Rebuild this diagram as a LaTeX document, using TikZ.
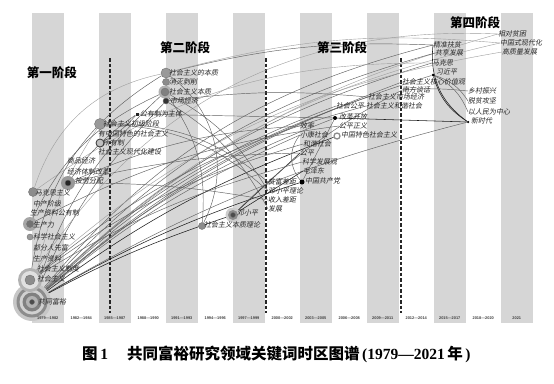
\documentclass[tikz,border=0pt]{standalone}
\usepackage{fontspec}
\newfontfamily\cjk[FakeSlant=0.18]{Noto Sans CJK SC}
\newfontfamily\cjkup{Noto Sans CJK SC}
\newfontfamily\yrfont{Liberation Sans}
\newfontfamily\capnum{Liberation Serif}
\pgfdeclarelayer{bg}
\pgfdeclarelayer{lines}
\pgfsetlayers{bg,lines,main}
\begin{document}
\begin{tikzpicture}[x=1pt,y=-1pt,
 kw/.style={font=\cjk\fontsize{7}{7}\selectfont, anchor=west, inner sep=0pt, text=black!85},
 phase/.style={font=\cjkup\bfseries\fontsize{12.5}{12.5}\selectfont, inner sep=0pt},
 yr/.style={font=\yrfont\bfseries\fontsize{3.9}{4}\selectfont, inner sep=0pt, text=black!75},
 ln/.style={draw=black!62, line width=0.45pt},
 lnl/.style={draw=black!38, line width=0.4pt},
 lnd/.style={draw=black!88, line width=0.55pt},
 hub/.style={circle, inner sep=0pt, draw=black!55, line width=0.4pt},
 stripe/.style={fill=black!16},
 phaseline/.style={draw=black!85, line width=1.1pt, dash pattern=on 3.5pt off 2pt}
]
\begin{pgfonlayer}{bg}
\useasboundingbox (0,0) rectangle (554,383);
\fill[white] (0,0) rectangle (554,383);
\foreach \i in {0,2,...,14}{
  \fill[stripe] ({31.5+33.5*\i},13) rectangle ({31+33.5*(\i+1)-0.5},323);
}
\coordinate (d1a) at (110,58); \coordinate (d1b) at (110,313);
\coordinate (d2a) at (266,58); \coordinate (d2b) at (266,313);
\coordinate (d3a) at (401,58); \coordinate (d3b) at (401,313);
\draw[phaseline] (d1a) -- (d1b);
\draw[phaseline] (d2a) -- (d2b);
\draw[phaseline] (d3a) -- (d3b);
\end{pgfonlayer}
% phase titles
\node[phase] (p1) at (52,73) {第一阶段};
\node[phase] (p2) at (185,48) {第二阶段};
\node[phase] (p3) at (342,48) {第三阶段};
\node[phase] (p4) at (475,23) {第四阶段};

% hub circles
\fill[black!22] (32,302) circle (19pt);
\fill[black!45] (32,302) circle (15.5pt);
\fill[black!18] (32,302) circle (12.5pt);
\fill[black!50] (32,302) circle (9.5pt);
\fill[black!30] (32,302) circle (6pt);
\node[hub, fill=black!70, minimum size=5pt] (cgt) at (32,302) {};
\fill[black!30] (30,280) circle (12pt);
\fill[black!12] (30,280) circle (9pt);
\node[hub, fill=black!45, minimum size=10pt] (cshzy) at (30,280) {};
\fill[black!35] (30,224) circle (7pt);
\node[hub, fill=black!55, minimum size=7pt] (cscl) at (30,224) {};
\node[hub, fill=black!40, minimum size=6pt] (ckxsh) at (30,237) {};
\node[hub, fill=black!45, minimum size=9pt] (cmkszy) at (33,192) {};
\fill[black!40] (68,183) circle (7pt);
\node[hub, fill=black!85, minimum size=6pt] (caldf) at (68,183) {};
\node[hub, fill=black!40, minimum size=11pt] (ccjjd) at (100,124) {};
\node[hub, fill=black!25, draw=black!80, line width=0.8pt, minimum size=8pt] (csyz) at (100,143) {};
\node[fill=black!85, inner sep=0pt, minimum size=3pt] (cgyzt) at (137,114) {};
\node[hub, fill=black!40, minimum size=10pt] (cbz) at (166,73) {};
\node[hub, fill=black!45, minimum size=7pt] (cxmbx) at (166,82) {};
\fill[black!30] (165,92) circle (6.5pt);
\node[hub, fill=black!50, minimum size=8pt] (cshbz) at (165,92) {};
\node[hub, fill=black!80, minimum size=6pt] (cscjj) at (166,101) {};
\fill[black!20] (233,215) circle (7.5pt);
\fill[black!45] (233,215) circle (5pt);
\node[hub, fill=black!70, minimum size=5pt] (cdxp) at (233,215) {};
\node[hub, fill=black!45, minimum size=7pt] (cbzll) at (202,226) {};
\node[circle, fill=black, inner sep=0pt, minimum size=5pt] (czggcd) at (302,182) {};
\node[circle, fill=black, inner sep=0pt, minimum size=4pt] (cggkf) at (335,118) {};
\node[circle, draw=black!45, line width=1.3pt, fill=white, inner sep=0pt, minimum size=6pt] (cts) at (337,136) {};
\node[circle, fill=black, inner sep=0pt, minimum size=3pt] (cxjp) at (433,75) {};
\node[circle, fill=black, inner sep=0pt, minimum size=2.5pt] (cxsd) at (468,122) {};

% year labels
\foreach \t [count=\i from 0] in {1979—1982,1982—1984,1985—1987,1988—1990,1991—1993,1994—1996,1997—1999,2000—2002,2003—2005,2006—2008,2009—2011,2012—2014,2015—2017,2018—2020,2021}{
  \node[yr] (y\i) at ({31+33.5*\i+16.75},318) {\t};
}

% keyword labels
\path
 (38,302) node[kw] (gt) {共同富裕}
 (37,279) node[kw] (shzy) {社会主义}
 (37,269) node[kw] (shzd) {社会主义制度}
 (33,259) node[kw] (sczl) {生产资料}
 (33,248) node[kw] (bfr) {部分人先富}
 (33,237) node[kw] (kxsh) {科学社会主义}
 (33,225) node[kw] (scl) {生产力}
 (30,213) node[kw] (gyz) {生产资料公有制}
 (33,204) node[kw] (zcj) {中产阶级}
 (35,193) node[kw] (mkszy) {马克思主义}
 (75,181) node[kw] (aldf) {按劳分配}
 (67,172) node[kw] (jjtz) {经济体制改革}
 (67,161) node[kw] (spjj) {商品经济}
 (103,124) node[kw] (cjjd) {社会主义初级阶段}
 (98,134) node[kw] (zgts) {有中国特色的社会主义}
 (103,143) node[kw] (syz) {所有制}
 (98,152) node[kw] (xdh) {社会主义现代化建设}
 (140,114) node[kw] (gyzt) {公有制为主体}
 (169,73) node[kw] (bz) {社会主义的本质}
 (169,82) node[kw] (xmbx) {消灭剥削}
 (169,92) node[kw] (shbz) {社会主义本质}
 (170,101) node[kw] (scjj) {市场经济}
 (237,213) node[kw] (dxp) {邓小平}
 (204,225) node[kw] (bzll) {社会主义本质理论}
 (268,182) node[kw] (pfcj) {贫富差距}
 (268,191) node[kw] (dxpll) {邓小平理论}
 (268,200) node[kw] (srcj) {收入差距}
 (268,209) node[kw] (fz) {发展}
 (336,106) node[kw] (shgp) {社会公平}
 (366,106) node[kw] (hxsh2) {社会主义和谐社会}
 (368,97) node[kw] (shsc) {社会主义市场经济}
 (402,90) node[kw] (nfth) {南方谈话}
 (402,82) node[kw] (hxjz) {社会主义核心价值观}
 (339,117) node[kw] (ggkf) {改革开放}
 (339,126) node[kw] (gpzy) {公平正义}
 (341,135) node[kw] (tsshzy) {中国特色社会主义}
 (300,126) node[kw] (xl) {效率}
 (300,135) node[kw] (xksh) {小康社会}
 (303,144) node[kw] (hxsh) {和谐社会}
 (300,153) node[kw] (gp) {公平}
 (302,162) node[kw] (kxfz) {科学发展观}
 (303,171) node[kw] (mzd) {毛泽东}
 (305,181) node[kw] (zggcd) {中国共产党}
 (433,45) node[kw] (jzfp) {精准扶贫}
 (435,53) node[kw] (gxfz) {共享发展}
 (432,63) node[kw] (mks) {马克思}
 (436,72) node[kw] (xjp) {习近平}
 (498,34) node[kw] (xdpk) {相对贫困}
 (500,43) node[kw] (zgsx) {中国式现代化}
 (502,52) node[kw] (gzl) {高质量发展}
 (468,91) node[kw] (xczx) {乡村振兴}
 (468,101) node[kw] (tpgj) {脱贫攻坚}
 (468,112) node[kw] (yrm) {以人民为中心}
 (471,121) node[kw] (xsd) {新时代};

% connectors (drawn beneath circles and labels)
\begin{pgfonlayer}{lines}
\draw[ln] (cgt) to[bend left=18] (jzfp.west);
\draw[lnl] (cgt) to[bend left=14] (xdpk.west);
\draw[ln] (cgt) to[bend left=16] (gxfz.west);
\draw[ln] (cgt) to[bend left=12] (cxjp);
\draw[ln] (cgt) to[bend left=14] (mks.west);
\draw[ln] (cgt) to[bend left=10] (hxjz.west);
\draw[lnd] (cgt) to[bend left=8] (cts);
\draw[lnd] (cgt) to[bend left=6] (czggcd);
\draw[lnd] (cgt) to[bend left=5] (cdxp);
\draw[ln] (cgt) to[bend left=10] (cggkf);
\draw[ln] (cgt) to[bend left=12] (shgp.west);
\draw[ln] (cgt) to[bend left=12] (shsc.west);
\draw[ln] (cgt) to[bend left=8] (xksh.west);
\draw[ln] (cgt) to[bend left=15] (cshbz);
\draw[ln] (cgt) to[bend left=10] (cscjj);
\draw[lnl] (cgt) to[bend left=12] (ccjjd);
\draw[ln] (cgt) to[bend left=8] (cxsd);
\draw[lnl] (cgt) to[bend left=16] (zgsx.west);
\draw[ln] (cshzy) to[bend left=25] (cbz);
\draw[ln] (cshzy) to[bend left=10] (hxsh.west);
\draw[ln] (cshzy) to[bend left=8] (kxfz.west);
\draw[ln] (cshzy) to[bend left=12] (hxsh2.west);
\draw[lnl] (cshzy) to[bend left=16] (gzl.west);
\draw[lnl] (cshzy) to[bend left=30] (xdpk.west);
\draw[ln] (cscl) to[bend left=20] (cshbz);
\draw[ln] (cscl) to[bend left=10] (gpzy.west);
\draw[lnl] (cmkszy) to[bend left=30] (cbz);
\draw[lnl] (cmkszy) to[bend left=18] (mks.west);
\draw[ln] (caldf) to[bend left=10] (cgyzt);
\draw[ln] (caldf) to[bend left=10] (xl.west);
\draw[ln] (caldf) to[bend left=5] (srcj.west);
\draw[ln] (caldf) to[bend left=6] (gp.west);
\draw[ln] (ccjjd) to[bend left=20] (pfcj.west);
\draw[ln] (ccjjd) to[bend left=20] (dxpll.west);
\draw[ln] (csyz) to[bend right=10] (cgyzt);
\draw[ln] (cbz) to[bend left=40] (cbzll);
\draw[ln] (cbz) to[bend left=8] (jzfp.west);
\draw[lnl] (cbz) to[bend left=10] (zgsx.west);
\draw[ln] (cshbz) to[bend left=15] (dxpll.west);
\draw[ln] (cshbz) to[bend left=20] (cbzll);
\draw[ln] (cscjj) to[bend left=6] (shsc.west);
\draw[ln] (cscjj) to[bend left=15] (fz.west);
\draw[lnd] (cdxp) -- (gp.west);
\draw[lnd] (cdxp) -- (mzd.west);
\draw[ln] (cdxp) to[bend left=8] (nfth.west);
\draw[ln] (czggcd) to[bend left=40] (xksh.west);
\draw[ln] (czggcd) -- (cggkf);
\draw[lnd] (cxjp) to[bend right=20] (cxsd);
\draw[lnd] (jzfp.west) to[bend right=30] (cxsd);
\draw[ln] (cxjp) to[bend left=20] (tpgj.west);
\draw[ln] (cxjp) to[bend left=20] (yrm.west);
\draw[lnd] (cggkf) -- (cxsd);
\draw[ln] (nfth.west) to[bend left=5] (xczx.west);
\draw[ln] (cgyzt) -- (cggkf);
\end{pgfonlayer}

% caption
\node[font=\cjkup\bfseries\fontsize{15.5}{15.5}\selectfont, inner sep=0pt, anchor=west] (cap) at (82,354) {图\,{\capnum\bfseries 1}\hspace{19pt}共同富裕研究领域关键词时区图谱\,{\capnum\bfseries (1979—2021}\,年{\capnum\bfseries \,)}};
\end{tikzpicture}
\end{document}
